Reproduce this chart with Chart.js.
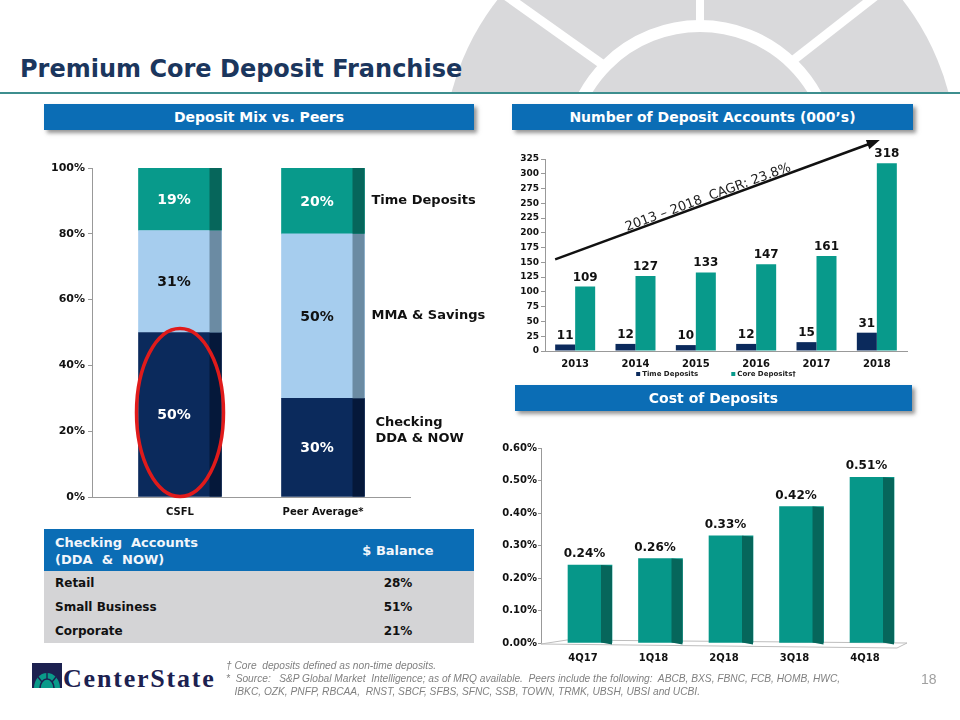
<!DOCTYPE html>
<html>
<head>
<meta charset="utf-8">
<title>Premium Core Deposit Franchise</title>
<script src="https://cdn.jsdelivr.net/npm/chart.js@4.4.1/dist/chart.umd.min.js"></script>
<style>
html,body{margin:0;padding:0;background:#fff;}
body{width:960px;height:720px;position:relative;overflow:hidden;font-family:"DejaVu Sans",Verdana,sans-serif;}
.abs{position:absolute;}
#title{left:20px;top:57px;font-size:24px;line-height:24px;font-weight:bold;color:#1b365d;white-space:nowrap;}
#rule{left:0;top:92px;width:960px;height:2px;background:#3d8e8e;}
.hdr{position:absolute;height:26px;line-height:26px;background:#0b6db5;color:#fff;font-weight:bold;font-size:14px;text-align:center;box-shadow:3px 3px 4px rgba(60,60,60,.55);white-space:nowrap;}
canvas{position:absolute;}
#tbl{position:absolute;left:44px;top:529px;width:430px;font-weight:bold;}
#tbl .th{position:relative;height:42px;background:#0b6db5;color:#f2f6fb;font-size:13px;}
#tbl .th .c1{position:absolute;left:11px;top:5px;line-height:17px;white-space:pre;}
#tbl .th .c2{position:absolute;left:294px;width:120px;top:13px;line-height:17px;text-align:center;}
#tbl .tr{position:relative;height:24px;line-height:24px;background:#d4d4d6;color:#111;font-size:12px;}
#tbl .tr .c1{position:absolute;left:11px;top:0;}
#tbl .tr .c2{position:absolute;left:294px;width:120px;top:0;text-align:center;}
#foot{left:226px;top:659px;font-family:"Liberation Sans",Arial,sans-serif;font-style:italic;font-size:10.2px;line-height:13px;color:#808080;white-space:pre;}
#page{left:921px;top:671px;font-family:"Liberation Sans",Arial,sans-serif;font-size:14px;color:#a0a0a0;}
#logo{left:63px;top:664px;font-family:"Liberation Serif","Times New Roman",serif;font-weight:bold;font-size:26px;line-height:30px;letter-spacing:1.8px;color:#1c2150;white-space:nowrap;}
</style>
</head>
<body>
<svg class="abs" style="left:0;top:0" width="960" height="92">
  <circle cx="700" cy="158" r="257" fill="#d9d9db"/>
  <circle cx="700" cy="158" r="132" fill="none" stroke="#fff" stroke-width="12"/>
  <line x1="700" y1="24" x2="700" y2="-5" stroke="#fff" stroke-width="8"/>
  <line x1="602" y1="64" x2="505" y2="-5" stroke="#fff" stroke-width="9"/>
  <line x1="791" y1="62" x2="878" y2="-6" stroke="#fff" stroke-width="9"/>
</svg>
<div id="title" class="abs">Premium Core Deposit Franchise</div>
<div id="rule" class="abs"></div>

<div class="hdr" style="left:44px;top:104px;width:430px;">Deposit Mix vs. Peers</div>
<div class="hdr" style="left:512px;top:104px;width:401px;">Number of Deposit Accounts (000’s)</div>

<canvas id="c1" width="450" height="370" style="left:40px;top:150px;"></canvas>
<canvas id="c2" width="420" height="255" style="left:500px;top:130px;"></canvas>
<div class="hdr" style="left:515px;top:385px;width:397px;">Cost of Deposits</div>
<canvas id="c3" width="425" height="240" style="left:495px;top:430px;"></canvas>

<div id="tbl"></div>

<svg class="abs" style="left:32px;top:663px" width="31" height="26">
  <rect x="0" y="0" width="30" height="25" fill="#1c2150"/>
  <path d="M2 25 A13 15 0 0 1 28 25 Z" fill="#0a9a8a"/>
  <path d="M8 25 A7 9 0 0 1 22 25" fill="none" stroke="#1c2150" stroke-width="1.6"/>
  <line x1="15" y1="10" x2="15" y2="16" stroke="#1c2150" stroke-width="1.4"/>
  <line x1="6" y1="14" x2="10" y2="19" stroke="#1c2150" stroke-width="1.4"/>
  <line x1="24" y1="14" x2="20" y2="19" stroke="#1c2150" stroke-width="1.4"/>
</svg>
<div id="logo" class="abs">CenterState</div>
<div id="foot" class="abs">† Core  deposits defined as non-time deposits.
*  Source:   S&amp;P Global Market  Intelligence; as of MRQ available.  Peers include the following:  ABCB, BXS, FBNC, FCB, HOMB, HWC,
   IBKC, OZK, PNFP, RBCAA,  RNST, SBCF, SFBS, SFNC, SSB, TOWN, TRMK, UBSH, UBSI and UCBI.</div>
<div id="page" class="abs">18</div>

<script>
// ---------- Data ----------
const mixCategories = ['CSFL', 'Peer Average*'];
const mixSeries = ['Checking DDA & NOW', 'MMA & Savings', 'Time Deposits'];
const mixChecking = [50, 30];
const mixMMA = [31, 50];
const mixTime = [19, 20];
const mixSideLabels = [['Checking', 'DDA & NOW'], ['MMA & Savings'], ['Time Deposits']];
const mixTicks = [0, 20, 40, 60, 80, 100];

const acctYears = ['2013', '2014', '2015', '2016', '2017', '2018'];
const acctSeries = ['Time Deposits', 'Core Deposits†'];
const acctTime = [11, 12, 10, 12, 15, 31];
const acctCore = [109, 127, 133, 147, 161, 318];
const acctCagrText = '2013 – 2018  CAGR: 23.8%';

const costQuarters = ['4Q17', '1Q18', '2Q18', '3Q18', '4Q18'];
const costValues = [0.24, 0.26, 0.33, 0.42, 0.51];

const tableHeader = ['Checking  Accounts\n(DDA  &  NOW)', '$ Balance'];
const tableRows = ['Retail', 'Small Business', 'Corporate'];
const tableBalances = ['28%', '51%', '21%'];

// ---------- Table ----------
(function () {
  let html = '<div class="th"><div class="c1">' + tableHeader[0] + '</div><div class="c2">' + tableHeader[1] + '</div></div>';
  tableRows.forEach((r, i) => {
    html += '<div class="tr"><div class="c1">' + r + '</div><div class="c2">' + tableBalances[i] + '</div></div>';
  });
  document.getElementById('tbl').innerHTML = html;
})();

// ---------- Chart defaults ----------
const FONT = '"DejaVu Sans", Verdana, sans-serif';
Chart.defaults.font.family = FONT;
Chart.defaults.color = '#111';

const NAVY = '#0b2a5c', NAVY_SIDE = '#05183a';
const LIGHT = '#a6cdee', LIGHT_SIDE = '#6b8ba3';
const TEAL = '#089a8b', TEAL_SIDE = '#06665b';

// ---------- Chart 1: Deposit mix (stacked) ----------
const mixPlugin = {
  id: 'mixPlugin',
  afterDatasetsDraw(chart) {
    const ctx = chart.ctx, side = 12;
    ctx.save();
    chart.data.datasets.forEach((ds, di) => {
      const meta = chart.getDatasetMeta(di);
      meta.data.forEach((el, j) => {
        const p = el.getProps(['x', 'y', 'base', 'width'], true);
        const top = Math.min(p.y, p.base), h = Math.abs(p.base - p.y);
        ctx.fillStyle = ds.sideColor;
        ctx.fillRect(p.x + p.width / 2 - side, top, side, h);
        ctx.fillStyle = ds.textColor;
        ctx.font = 'bold 14px ' + FONT;
        ctx.textAlign = 'center';
        ctx.textBaseline = 'middle';
        ctx.fillText(ds.data[j].y + '%', p.x - side / 2, top + h / 2 + 1);
      });
      const last = meta.data[meta.data.length - 1].getProps(['x', 'y', 'base', 'width'], true);
      const lines = mixSideLabels[di];
      const lh = 16;
      const mid = (last.y + last.base) / 2;
      const multi = lines.length > 1;
      const startY = mid - (lines.length - 1) * lh / 2 - (multi ? 17 : 0);
      ctx.fillStyle = '#111';
      ctx.font = 'bold 13px ' + FONT;
      ctx.textAlign = 'left';
      ctx.textBaseline = 'middle';
      lines.forEach((t, k) => ctx.fillText(t, last.x + last.width / 2 + 7 + (multi ? 4 : 0), startY + k * lh));
    });
    const el = chart.getDatasetMeta(0).data[0].getProps(['x', 'y', 'base', 'width'], true);
    ctx.strokeStyle = '#e01b1b';
    ctx.lineWidth = 3.5;
    ctx.beginPath();
    ctx.ellipse(el.x, (el.y - 4 + el.base) / 2, el.width / 2 + 2, (el.base - el.y + 4) / 2, 0, 0, Math.PI * 2);
    ctx.stroke();
    ctx.restore();
  }
};

new Chart(document.getElementById('c1'), {
  type: 'bar',
  data: {
    datasets: [
      { label: mixSeries[0], data: mixChecking.map((v, i) => ({ x: i, y: v })), backgroundColor: NAVY, sideColor: NAVY_SIDE, textColor: '#fff' },
      { label: mixSeries[1], data: mixMMA.map((v, i) => ({ x: i, y: v })), backgroundColor: LIGHT, sideColor: LIGHT_SIDE, textColor: '#111' },
      { label: mixSeries[2], data: mixTime.map((v, i) => ({ x: i, y: v })), backgroundColor: TEAL, sideColor: TEAL_SIDE, textColor: '#fff' }
    ]
  },
  options: {
    responsive: false,
    animation: false,
    layout: { padding: { top: 18, right: 80, left: 0, bottom: 0 } },
    plugins: { legend: { display: false }, tooltip: { enabled: false } },
    datasets: { bar: { barThickness: 83 } },
    scales: {
      x: {
        type: 'linear', stacked: true, offset: false, min: -0.6154, max: 1.6084,
        afterBuildTicks: s => { s.ticks = mixCategories.map((_, i) => ({ value: i })); },
        ticks: { callback: v => mixCategories[v], font: { size: 10, weight: 'bold' }, color: '#111', padding: 9, autoSkip: false, maxRotation: 0 },
        grid: { display: false, drawTicks: false, offset: false },
        border: { color: '#999' },
        afterFit: s => { s.height = 23; }
      },
      y: {
        stacked: true, min: 0, max: 100,
        afterBuildTicks: s => { s.ticks = mixTicks.map(v => ({ value: v })); },
        ticks: { callback: v => v + '%', font: { size: 11, weight: 'bold' }, color: '#111', padding: 3 },
        grid: { drawOnChartArea: false, tickLength: 4, color: '#999' },
        border: { color: '#999' },
        afterFit: s => { s.width = 52; }
      }
    }
  },
  plugins: [mixPlugin]
});

// ---------- Chart 2: Number of deposit accounts ----------
const acctPlugin = {
  id: 'acctPlugin',
  afterDraw(chart) {
    const ctx = chart.ctx;
    ctx.save();
    ctx.font = 'bold 12px ' + FONT;
    ctx.fillStyle = '#111';
    ctx.textAlign = 'center';
    ctx.textBaseline = 'alphabetic';
    chart.data.datasets.forEach((ds, di) => {
      chart.getDatasetMeta(di).data.forEach((el, j) => {
        const p = el.getProps(['x', 'y'], true);
        ctx.fillText(String(ds.data[j]), p.x, p.y - 6);
      });
    });
    // CAGR arrow
    const xs = chart.scales.x, ys = chart.scales.y;
    const x1 = xs.getPixelForValue(0) - 20, y1 = ys.getPixelForValue(155);
    const x2 = xs.getPixelForValue(acctYears.length - 1) + 3, y2 = ys.getPixelForValue(357);
    const ang = Math.atan2(y2 - y1, x2 - x1);
    const c = Math.cos(ang), s = Math.sin(ang);
    ctx.strokeStyle = '#111';
    ctx.lineWidth = 2.5;
    ctx.beginPath();
    ctx.moveTo(x1, y1);
    ctx.lineTo(x2 - 10 * c, y2 - 10 * s);
    ctx.stroke();
    ctx.beginPath();
    ctx.moveTo(x2, y2);
    ctx.lineTo(x2 - 13 * c + 5 * s, y2 - 13 * s - 5 * c);
    ctx.lineTo(x2 - 13 * c - 5 * s, y2 - 13 * s + 5 * c);
    ctx.closePath();
    ctx.fill();
    const t = 0.477;
    const mx = x1 + (x2 - x1) * t, my = y1 + (y2 - y1) * t;
    ctx.save();
    ctx.translate(mx + 2 * s, my - 2 * c);
    ctx.rotate(ang);
    ctx.font = '13px ' + FONT;
    ctx.fillStyle = '#222';
    ctx.textAlign = 'center';
    ctx.fillText(acctCagrText, 0, 0);
    ctx.restore();
    // legend
    ctx.font = 'bold 7px ' + FONT;
    ctx.textAlign = 'left';
    ctx.textBaseline = 'middle';
    const box = 4, gapBox = 2, gapItem = 33;
    const widths = chart.data.datasets.map(ds => box + gapBox + ctx.measureText(ds.label).width);
    const total = widths.reduce((a, b) => a + b, 0) + gapItem * (widths.length - 1);
    let lx = chart.width / 2 + 6 - total / 2;
    const ly = 244;
    chart.data.datasets.forEach((ds, i) => {
      ctx.fillStyle = ds.backgroundColor;
      ctx.fillRect(lx, ly - box / 2, box, box);
      ctx.fillStyle = '#222';
      ctx.fillText(ds.label, lx + box + gapBox, ly);
      lx += widths[i] + gapItem;
    });
    ctx.restore();
  }
};

new Chart(document.getElementById('c2'), {
  type: 'bar',
  data: {
    labels: acctYears,
    datasets: [
      { label: acctSeries[0], data: acctTime, backgroundColor: NAVY },
      { label: acctSeries[1], data: acctCore, backgroundColor: TEAL }
    ]
  },
  options: {
    responsive: false,
    animation: false,
    layout: { padding: { top: 29, right: 13, left: 0, bottom: 17 } },
    plugins: { legend: { display: false }, tooltip: { enabled: false } },
    datasets: { bar: { categoryPercentage: 0.663, barPercentage: 1 } },
    scales: {
      x: {
        grid: { display: false, drawTicks: false },
        border: { color: '#999' },
        ticks: { font: { size: 10, weight: 'bold' }, color: '#111', padding: 7, maxRotation: 0 },
        afterFit: s => { s.height = 17; }
      },
      y: {
        min: 0, max: 325,
        ticks: { stepSize: 25, font: { size: 9, weight: 'bold' }, color: '#111', padding: 2 },
        grid: { drawOnChartArea: false, tickLength: 4, color: '#999' },
        border: { color: '#999' },
        afterFit: s => { s.width = 45; }
      }
    }
  },
  plugins: [acctPlugin]
});

// ---------- Chart 3: Cost of deposits ----------
const costPlugin = {
  id: 'costPlugin',
  beforeDatasetsDraw(chart) {
    const { left, right, bottom } = chart.chartArea;
    const ctx = chart.ctx;
    ctx.save();
    ctx.strokeStyle = '#bdbdbd';
    ctx.lineWidth = 1;
    ctx.beginPath();
    ctx.moveTo(left, bottom + 1);
    ctx.lineTo(left + 26, bottom - 3);
    ctx.lineTo(right, bottom);
    ctx.lineTo(right - 10, bottom + 5);
    ctx.closePath();
    ctx.stroke();
    ctx.restore();
  },
  afterDraw(chart) {
    const ctx = chart.ctx, side = 11;
    ctx.save();
    const ds = chart.data.datasets[0];
    chart.getDatasetMeta(0).data.forEach((el, j) => {
      const p = el.getProps(['x', 'y', 'base', 'width'], true);
      ctx.fillStyle = TEAL_SIDE;
      ctx.beginPath();
      ctx.moveTo(p.x + p.width / 2 - side, p.y);
      ctx.lineTo(p.x + p.width / 2, p.y + 1);
      ctx.lineTo(p.x + p.width / 2, p.base + 2);
      ctx.lineTo(p.x + p.width / 2 - side, p.base);
      ctx.closePath();
      ctx.fill();
      ctx.fillStyle = '#111';
      ctx.font = 'bold 12px ' + FONT;
      ctx.textAlign = 'center';
      ctx.textBaseline = 'alphabetic';
      ctx.fillText(ds.data[j].y.toFixed(2) + '%', p.x - side / 2, p.y - 8);
    });
    ctx.restore();
  }
};

new Chart(document.getElementById('c3'), {
  type: 'bar',
  data: {
    datasets: [
      { label: 'Cost of Deposits', data: costValues.map((v, i) => ({ x: i, y: v })), backgroundColor: '#069789' }
    ]
  },
  options: {
    responsive: false,
    animation: false,
    layout: { padding: { top: 18, right: 13, left: 0, bottom: 7 } },
    plugins: { legend: { display: false }, tooltip: { enabled: false } },
    datasets: { bar: { barThickness: 44 } },
    scales: {
      x: {
        type: 'linear', offset: false, min: -0.695, max: 4.496,
        afterBuildTicks: s => { s.ticks = costQuarters.map((_, i) => ({ value: i })); },
        ticks: { callback: v => costQuarters[v], font: { size: 10, weight: 'bold' }, color: '#111', padding: 9, labelOffset: -7, autoSkip: false, maxRotation: 0 },
        grid: { display: false, drawTicks: false, offset: false },
        border: { display: false },
        afterFit: s => { s.height = 20; }
      },
      y: {
        min: 0, max: 0.6,
        ticks: { stepSize: 0.1, callback: v => v.toFixed(2) + '%', font: { size: 10, weight: 'bold' }, color: '#111', padding: 1 },
        grid: { drawOnChartArea: false, tickLength: 3, color: '#999' },
        border: { color: '#999' },
        afterFit: s => { s.width = 46; }
      }
    }
  },
  plugins: [costPlugin]
});
</script>
</body>
</html>
